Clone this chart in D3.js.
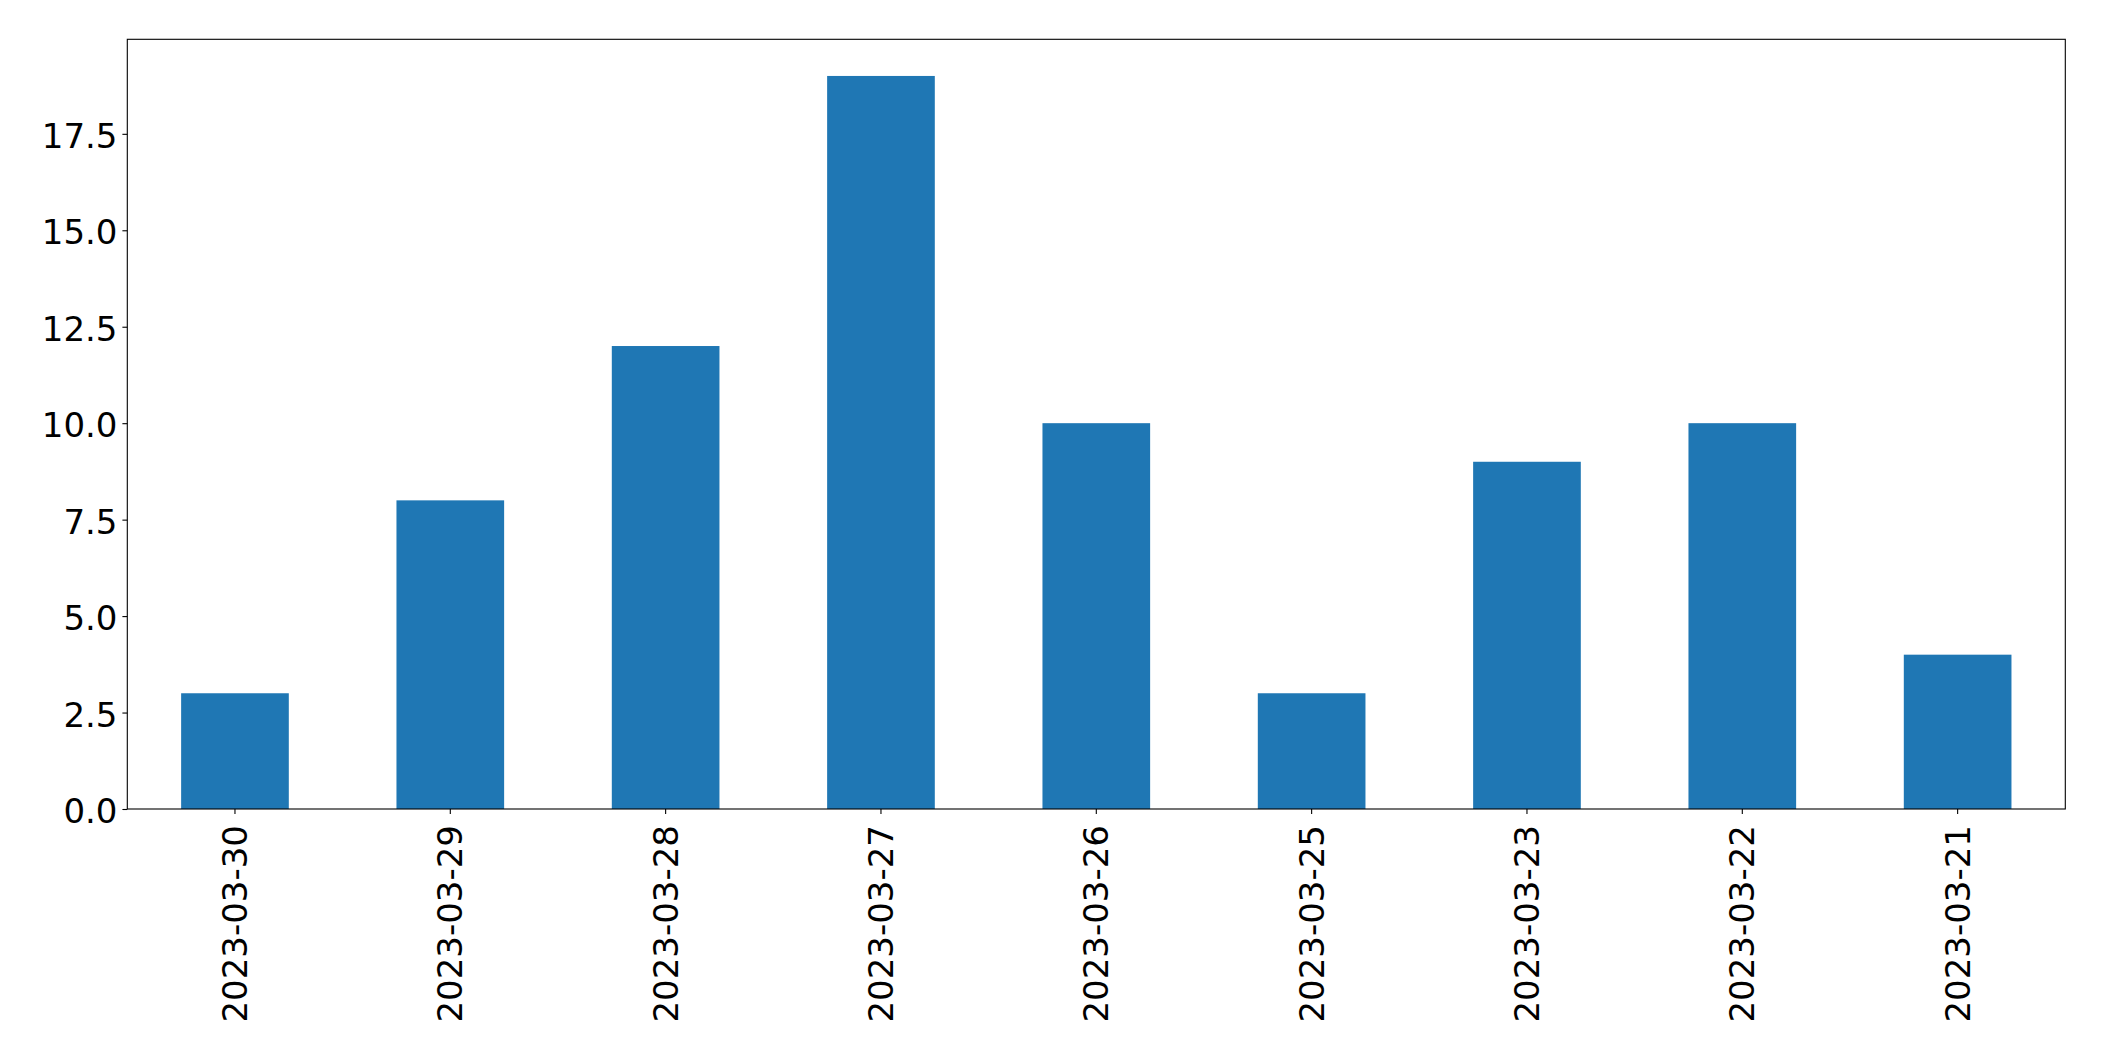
<!DOCTYPE html>
<html>
<head>
<meta charset="utf-8">
<script src="https://cdn.jsdelivr.net/npm/d3@7"></script>
<style>
  body { margin: 0; background: #fff; }
  text { font-family: "DejaVu Sans", sans-serif; }
</style>
</head>
<body>
<div id="chart"></div>
<script>
// data
var dates = ["2023-03-30", "2023-03-29", "2023-03-28", "2023-03-27", "2023-03-26",
             "2023-03-25", "2023-03-23", "2023-03-22", "2023-03-21"];
var counts = [3, 8, 12, 19, 10, 3, 9, 10, 4];
var yTicks = [0, 2.5, 5, 7.5, 10, 12.5, 15, 17.5];

var width = 2104, height = 1061;
var margin = {top: 39.3, right: 2104 - 2065.3, bottom: 1061 - 809, left: 127.3};
var fontSize = 34;
var tickLen = 4.9;

var svg = d3.select("#chart")
    .append("svg")
    .attr("width", width)
    .attr("height", height);

var x = d3.scaleBand()
    .domain(dates)
    .range([margin.left, width - margin.right])
    .paddingInner(0.5)
    .paddingOuter(0.25);

// matplotlib style 5% headroom
var y = d3.scaleLinear()
    .domain([0, d3.max(counts) * 1.05])
    .range([height - margin.bottom, margin.top]);

//bars
svg.append("g").attr("class", "bars")
    .selectAll("rect")
    .data(counts).enter()
    .append("rect")
    .attr("x", function(d, i) { return x(dates[i]); })
    .attr("y", function(d) { return y(d); })
    .attr("width", x.bandwidth())
    .attr("height", function(d) { return y(0) - y(d); })
    .attr("fill", "#1f77b4");

//y axis
var yAxis = svg.append("g")
    .attr("transform", "translate(" + margin.left + ",0)")
    .attr("font-family", "DejaVu Sans")
    .call(d3.axisLeft(y).tickValues(yTicks).tickFormat(d3.format(".1f"))
        .tickSize(tickLen).tickPadding(4.9).tickSizeOuter(0));
yAxis.select(".domain").remove();
yAxis.selectAll("line").attr("stroke", "#000").attr("stroke-width", 1.1);
yAxis.selectAll("text")
    .attr("font-size", fontSize)
    .attr("fill", "#000")
    .attr("dy", "0.4em");

//x axis
var xAxis = svg.append("g")
    .attr("transform", "translate(0," + y(0) + ")")
    .attr("font-family", "DejaVu Sans")
    .call(d3.axisBottom(x).tickSize(tickLen).tickSizeOuter(0));
xAxis.select(".domain").remove();
xAxis.selectAll("line").attr("stroke", "#000").attr("stroke-width", 1.1);
xAxis.selectAll("text")
    .attr("font-size", fontSize)
    .attr("fill", "#000")
    .attr("y", 0)
    .attr("dy", null)
    .attr("transform", "translate(0,16) rotate(-90)")
    .attr("text-anchor", "end")
    .attr("dominant-baseline", "central");

//frame
svg.append("rect")
    .attr("x", margin.left)
    .attr("y", margin.top)
    .attr("width", width - margin.left - margin.right)
    .attr("height", height - margin.top - margin.bottom)
    .attr("fill", "none")
    .attr("stroke", "#000")
    .attr("stroke-width", 1.1);
</script>
</body>
</html>
